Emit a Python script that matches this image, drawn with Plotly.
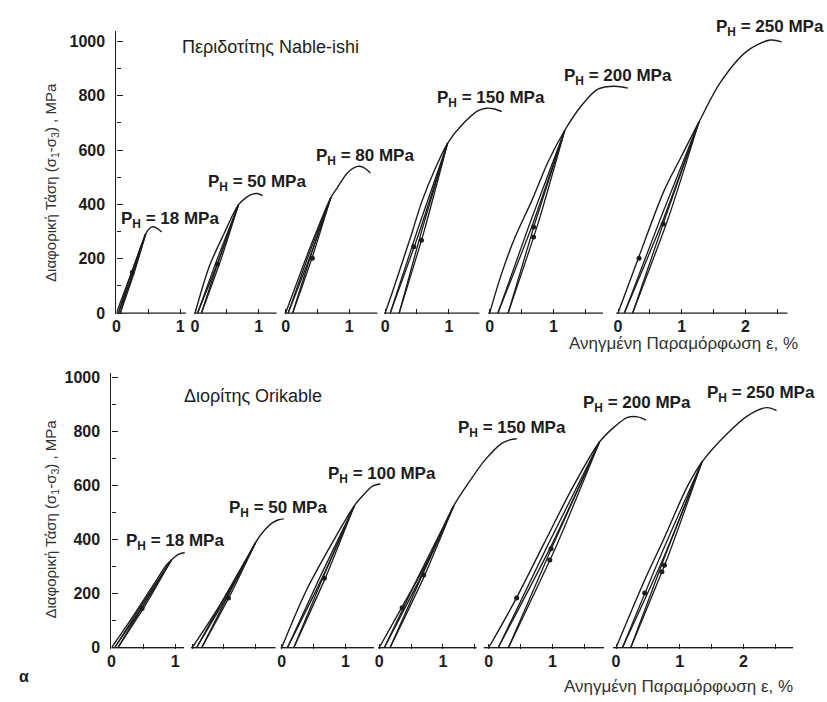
import plotly.graph_objects as go

# ---------------- data: differential stress (MPa) vs. axial strain (%) ----------------
PANEL_TITLES = ["Περιδοτίτης Nable-ishi", "Διορίτης Orikable"]
TOP_PRESSURE = [18, 50, 80, 150, 200, 250]
BOT_PRESSURE = [18, 50, 100, 150, 200, 250]

# loading envelopes (strain %, stress MPa)
TOP_ENV_X = [
    [0, 0.27, 0.40, 0.46, 0.52, 0.58, 0.64, 0.71],
    [0, 0.22, 0.45, 0.68, 0.80, 0.90, 0.98, 1.06],
    [0, 0.27, 0.47, 0.71, 0.81, 0.97, 1.13, 1.22, 1.33],
    [0, 0.11, 0.40, 0.58, 0.79, 0.98, 1.20, 1.46, 1.59, 1.70, 1.83],
    [0, 0.19, 0.40, 0.66, 0.92, 1.18, 1.44, 1.70, 1.96, 2.17],
    [0, 0.31, 0.72, 0.98, 1.27, 1.61, 2.03, 2.39, 2.57],
]
TOP_ENV_Y = [
    [0, 171, 256, 292, 312, 318, 312, 298],
    [0, 170, 290, 398, 425, 438, 440, 432],
    [0, 171, 292, 425, 461, 516, 540, 536, 516],
    [0, 75, 280, 413, 534, 625, 691, 745, 754, 752, 742],
    [0, 147, 280, 413, 558, 673, 763, 824, 835, 828],
    [0, 196, 449, 570, 703, 850, 965, 1005, 998],
]
BOT_ENV_X = [
    [0, 0.29, 0.66, 0.86, 0.94, 1.05, 1.15],
    [0, 0.28, 0.54, 0.80, 1.00, 1.11, 1.27, 1.36, 1.44],
    [0, 0.38, 0.80, 1.14, 1.29, 1.42, 1.55],
    [0, 0.41, 0.78, 1.17, 1.40, 1.66, 1.92, 2.05, 2.16],
    [0, 0.41, 0.88, 1.30, 1.74, 1.97, 2.18, 2.34, 2.47],
    [0, 0.44, 0.75, 1.12, 1.35, 1.74, 2.06, 2.37, 2.52],
]
BOT_ENV_Y = [
    [0, 99, 233, 305, 324, 345, 352],
    [0, 99, 196, 299, 390, 427, 463, 473, 476],
    [0, 208, 390, 524, 566, 596, 606],
    [0, 172, 330, 524, 608, 693, 754, 768, 772],
    [0, 172, 390, 584, 760, 815, 851, 853, 841],
    [0, 245, 402, 596, 687, 790, 856, 887, 876],
]

# unload/reload cycles: turning point on the envelope, residual strains after unloading,
# and one intermediate point (at MID_Y) on each unloading and reloading branch
TOP_TURN_X = [0.46, 0.68, 0.71, 0.98, 1.18, 1.27]
TOP_TURN_Y = [292, 398, 425, 625, 673, 703]
TOP_RESIDUAL = [[0.03, 0.06], [0.04, 0.10], [0.04, 0.11], [0.08, 0.22], [0.13, 0.29], [0.10, 0.23]]
TOP_MID_Y = [150, 200, 200, 300, 330, 350]
TOP_UNLOAD_MID_X = [[0.27, 0.28], [0.38, 0.41], [0.37, 0.41], [0.54, 0.61], [0.68, 0.76], [0.72, 0.79]]
TOP_RELOAD_MID_X = [[0.24, 0.255], [0.35, 0.38], [0.34, 0.38], [0.50, 0.57], [0.63, 0.71], [0.67, 0.74]]
TOP_DOT_X = [[0.25], [0.35], [0.42], [0.57, 0.45], [0.69, 0.69], [0.71, 0.33]]
TOP_DOT_Y = [[150], [180], [202], [268, 244], [317, 280], [328, 202]]

BOT_TURN_X = [0.94, 1.00, 1.14, 1.17, 1.74, 1.35]
BOT_TURN_Y = [324, 390, 524, 524, 760, 687]
BOT_RESIDUAL = [[0.05, 0.10], [0.07, 0.15], [0.09, 0.19], [0.08, 0.17], [0.15, 0.31], [0.10, 0.23]]
BOT_MID_Y = [160, 200, 260, 260, 380, 340]
BOT_UNLOAD_MID_X = [[0.51, 0.54], [0.57, 0.61], [0.64, 0.69], [0.65, 0.70], [0.99, 1.07], [0.76, 0.82]]
BOT_RELOAD_MID_X = [[0.48, 0.51], [0.54, 0.58], [0.60, 0.65], [0.61, 0.66], [0.93, 1.01], [0.70, 0.77]]
BOT_DOT_X = [[0.48], [0.57], [0.67], [0.36, 0.70], [0.98, 0.96, 0.44], [0.76, 0.72, 0.45]]
BOT_DOT_Y = [[145], [184], [257], [148, 269], [366, 324, 184], [305, 281, 202]]

STRAIN_MAJOR = [0, 1, 2]
STRAIN_MINOR = [0.5, 1.5, 2.5]

# ---------------- layout geometry (pixels) ----------------
W, H = 827, 702
S = 64.0                     # pixels per 1 % strain
INK = "#1c1c1c"
FONT = "Liberation Sans"

PANELS = [
    dict(env_x=TOP_ENV_X, env_y=TOP_ENV_Y, turn_x=TOP_TURN_X, turn_y=TOP_TURN_Y,
         resid=TOP_RESIDUAL, mid_y=TOP_MID_Y, un_x=TOP_UNLOAD_MID_X, re_x=TOP_RELOAD_MID_X,
         dot_x=TOP_DOT_X, dot_y=TOP_DOT_Y, pressure=TOP_PRESSURE,
         origin=[113, 192, 283, 383, 488, 617],
         lo=[0, -0.02, -0.02, -0.02, -0.03, -0.03],
         hi=[1.09, 1.28, 1.44, 1.48, 1.78, 2.66],
         labels=[True] * 6,
         y0_px=314, y_scale=0.276, y_top=1040,
         ph_pos=[(167, 219), (254, 182), (363, 155), (489, 97), (617, 74), (770, 24)],
         title_pos=(268, 44), xtitle_pos=(683, 345), ytitle_pos=(47, 181)),
    dict(env_x=BOT_ENV_X, env_y=BOT_ENV_Y, turn_x=BOT_TURN_X, turn_y=BOT_TURN_Y,
         resid=BOT_RESIDUAL, mid_y=BOT_MID_Y, un_x=BOT_UNLOAD_MID_X, re_x=BOT_RELOAD_MID_X,
         dot_x=BOT_DOT_X, dot_y=BOT_DOT_Y, pressure=BOT_PRESSURE,
         origin=[108, 189, 279, 377, 487, 615],
         lo=[0, -0.02, -0.02, -0.02, -0.08, -0.05],
         hi=[1.14, 1.31, 1.45, 1.53, 1.81, 2.78],
         labels=[True, False, True, True, True, True],
         y0_px=654, y_scale=0.275, y_top=1015,
         ph_pos=[(172, 547), (275, 513), (380, 478), (510, 432), (636, 406), (761, 396)],
         title_pos=(250, 398), xtitle_pos=(678, 693), ytitle_pos=(48, 523)),
]

Y_LO = -4

fig = go.Figure()
layout = dict(
    width=W, height=H, margin=dict(l=0, r=0, t=0, b=0),
    paper_bgcolor="white", plot_bgcolor="rgba(0,0,0,0)",
    showlegend=False, font=dict(family=FONT, color=INK),
)
shapes, annotations = [], []


def px_x(p):
    return p / W


def px_y(p):
    return 1 - p / H


env_style = dict(color=INK, width=1.4, shape="spline", smoothing=0.9)
loop_style = dict(color=INK, width=1.3, shape="spline", smoothing=0.6)
tick_font = dict(size=16, family=FONT, color=INK, weight="bold")

for pi, P in enumerate(PANELS):
    yname = "y" if pi == 0 else "y2"
    ykey = "yaxis" if pi == 0 else "yaxis2"
    first_x = "x" if pi == 0 else "x7"
    bottom_px = P["y0_px"] - Y_LO * P["y_scale"]
    top_px = P["y0_px"] - P["y_top"] * P["y_scale"]
    layout[ykey] = dict(
        domain=[px_y(bottom_px), px_y(top_px)], range=[Y_LO, P["y_top"]], anchor=first_x,
        showline=True, linecolor=INK, linewidth=1.3, showgrid=False, zeroline=False,
        ticks="inside", ticklen=6, tickwidth=1.2, tickcolor=INK, tick0=0, dtick=200,
        minor=dict(ticks="inside", ticklen=4, tickwidth=1, tickcolor=INK, tick0=0, dtick=100),
        tickfont=tick_font, ticklabelstandoff=7,
    )

    for i in range(6):
        k = pi * 6 + i + 1
        xname = "x" if k == 1 else f"x{k}"
        xkey = "xaxis" if k == 1 else f"xaxis{k}"
        ex, ey = P["env_x"][i], P["env_y"][i]
        lo, hi, org = P["lo"][i], P["hi"][i], P["origin"][i]
        right = max(hi, max(ex)) + 0.06
        layout[xkey] = dict(
            domain=[px_x(org + lo * S), px_x(org + right * S)], range=[lo, right], anchor=yname,
            showline=False, showgrid=False, zeroline=False,
            ticks="inside", ticklen=5, tickwidth=1.2, tickcolor=INK,
            tickmode="array", tickvals=[t for t in STRAIN_MAJOR if t <= hi],
            ticktext=[str(t) for t in STRAIN_MAJOR if t <= hi],
            minor=dict(tickmode="array", tickvals=[t for t in STRAIN_MINOR if t <= hi],
                       ticks="inside", ticklen=5, tickwidth=1.2, tickcolor=INK),
            showticklabels=P["labels"][i],
            tickfont=tick_font, ticklabelstandoff=1,
        )
        # strain axis baseline
        shapes.append(dict(type="line", xref=xname, yref=yname, x0=lo, x1=hi, y0=0, y1=0,
                           line=dict(color=INK, width=1.3)))

        # loading envelope to failure
        fig.add_trace(go.Scatter(x=ex, y=ey, mode="lines", line=env_style,
                                 xaxis=xname, yaxis=yname, hoverinfo="skip"))
        # unload / reload cycles
        tx, ty, my = P["turn_x"][i], P["turn_y"][i], P["mid_y"][i]
        for j, r in enumerate(P["resid"][i]):
            fig.add_trace(go.Scatter(x=[tx, P["un_x"][i][j], r], y=[ty, my, 0], mode="lines",
                                     line=loop_style, xaxis=xname, yaxis=yname, hoverinfo="skip"))
            fig.add_trace(go.Scatter(x=[r, P["re_x"][i][j], tx], y=[0, my, ty], mode="lines",
                                     line=loop_style, xaxis=xname, yaxis=yname, hoverinfo="skip"))
        # measurement dots
        fig.add_trace(go.Scatter(x=P["dot_x"][i], y=P["dot_y"][i], mode="markers",
                                 marker=dict(color=INK, size=5), xaxis=xname, yaxis=yname,
                                 hoverinfo="skip"))
        # confining pressure label
        cx, cy = P["ph_pos"][i]
        annotations.append(dict(
            x=px_x(cx), y=px_y(cy), xref="paper", yref="paper", showarrow=False,
            xanchor="center", yanchor="middle",
            text=f"<b>P<sub>H</sub> = {P['pressure'][i]} MPa</b>",
            font=dict(size=17, family=FONT, color=INK)))

    tx_, ty_ = P["title_pos"]
    annotations.append(dict(x=px_x(tx_), y=px_y(ty_), xref="paper", yref="paper",
                            showarrow=False, xanchor="center", yanchor="middle",
                            text=PANEL_TITLES[pi], font=dict(size=18, family=FONT, color=INK)))
    xx, xy = P["xtitle_pos"]
    annotations.append(dict(x=px_x(xx), y=px_y(xy), xref="paper", yref="paper",
                            showarrow=False, xanchor="center", yanchor="middle",
                            text="Ανηγμένη Παραμόρφωση ε, %",
                            font=dict(size=17, family=FONT, color="#333")))
    yx, yy = P["ytitle_pos"]
    annotations.append(dict(x=px_x(yx), y=px_y(yy), xref="paper", yref="paper",
                            showarrow=False, xanchor="center", yanchor="middle", textangle=-90,
                            text="Διαφορική Τάση (σ<sub>1</sub>-σ<sub>3</sub>) , MPa",
                            font=dict(size=15, family=FONT, color="#333")))

annotations.append(dict(x=px_x(20), y=px_y(683), xref="paper", yref="paper", showarrow=False,
                        xanchor="center", yanchor="middle", text="<b>α</b>",
                        font=dict(size=16, family=FONT, color=INK)))

layout["shapes"] = shapes
layout["annotations"] = annotations
fig.update_layout(**layout)
fig.write_html("out.html")
